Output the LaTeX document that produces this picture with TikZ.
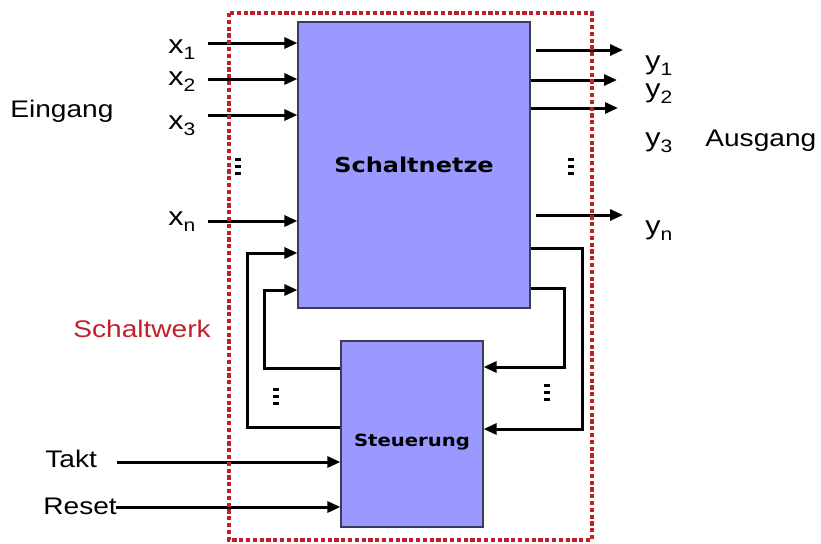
\documentclass[tikz,border=0pt]{standalone}
\usepackage{fontspec}
\setmainfont{Liberation Sans}[FakeStretch=1.17]
\newfontfamily\boxfont{DejaVu Sans}[FakeStretch=1.17]
\usetikzlibrary{arrows.meta,calc}
\definecolor{boxblue}{RGB}{153,153,255}
\definecolor{framered}{RGB}{192,32,44}
\definecolor{boxedge}{RGB}{60,60,90}
\newcommand{\signame}[2]{#1\raisebox{-3pt}{\fontsize{9}{10}\selectfont #2}}
\begin{document}
\begin{tikzpicture}[x=0.5pt,y=-0.5pt,
  blk/.style={draw=boxedge, line width=0.6pt, fill=boxblue, inner sep=0pt},
  arr/.style={line width=1.5pt, -{Triangle[length=6.5pt,width=5.5pt]}},
  lbl/.style={inner sep=0pt, anchor=base west, font=\fontsize{13}{15}\selectfont},
  txt/.style={inner sep=0pt, anchor=base west, font=\fontsize{12}{14}\selectfont},
  vdots/.style={line width=3.3pt, dash pattern=on 1.5pt off 2pt},
  frame/.style={draw=framered, line width=2.3pt, dash pattern=on 2.1pt off 1.3pt}
]
\useasboundingbox (0,0) rectangle (821,543);

% blocks
\node[blk, minimum width=116pt, minimum height=143pt,
      font=\boxfont\bfseries\fontsize{10.25}{12}\selectfont] (sn) at (414,165) {Schaltnetze};
\node[blk, minimum width=71pt, minimum height=93pt] (st) at (412,434) {};
\node[inner sep=0pt, font=\boxfont\bfseries\fontsize{8.4}{10}\selectfont] (stlabel) at (412,442) {Steuerung};

% inputs
\coordinate (x1s) at (208,43);
\coordinate (x2s) at (208,79);
\coordinate (x3s) at (208,115);
\coordinate (xns) at (208,221);
\draw[arr] (x1s) -- (x1s -| sn.west);
\draw[arr] (x2s) -- (x2s -| sn.west);
\draw[arr] (x3s) -- (x3s -| sn.west);
\draw[arr] (xns) -- (xns -| sn.west);
\node[lbl] (lx1) at (168,53) {\signame{x}{1}};
\node[lbl] (lx2) at (168,85) {\signame{x}{2}};
\node[lbl] (lx3) at (168,129) {\signame{x}{3}};
\node[lbl] (lxn) at (168,225) {\signame{x}{n}};

% outputs
\coordinate (y1e) at (623,50);
\coordinate (y2e) at (617,80);
\coordinate (y3e) at (618,108);
\coordinate (yne) at (623,215);
\draw[arr] ($(sn.east |- y1e)+(5,0)$) -- (y1e);
\draw[arr] (sn.east |- y2e) -- (y2e);
\draw[arr] (sn.east |- y3e) -- (y3e);
\draw[arr] ($(sn.east |- yne)+(5,0)$) -- (yne);
\node[lbl] (ly1) at (645,69) {\signame{y}{1}};
\node[lbl] (ly2) at (645,97) {\signame{y}{2}};
\node[lbl] (ly3) at (645,146) {\signame{y}{3}};
\node[lbl] (lyn) at (645,234) {\signame{y}{n}};

% feedback left
\coordinate (a1) at (247,427);
\coordinate (a2) at (247,253);
\draw[arr] (st.west |- a1) -- (a1) -- (a2) -- (a2 -| sn.west);
\coordinate (b1) at (264,368);
\coordinate (b2) at (264,290);
\draw[arr] (st.west |- b1) -- (b1) -- (b2) -- (b2 -| sn.west);
% feedback right
\coordinate (c1) at (582,248);
\coordinate (c2) at (582,429);
\draw[arr] (sn.east |- c1) -- (c1) -- (c2) -- (c2 -| st.east);
\coordinate (d1) at (564,288);
\coordinate (d2) at (564,367);
\draw[arr] (sn.east |- d1) -- (d1) -- (d2) -- (d2 -| st.east);

% Takt / Reset
\coordinate (tk) at (117,462);
\coordinate (rs) at (116,507);
\draw[arr] (tk) -- (tk -| st.west);
\draw[arr] (rs) -- (rs -| st.west);

% text labels
\node[txt] (eingang) at (10,117) {Eingang};
\node[txt] (ausgang) at (705,146) {Ausgang};
\node[txt, text=framered] (schaltwerk) at (73,337) {Schaltwerk};
\node[txt] (takt) at (45,467) {Takt};
\node[txt] (reset) at (43,514) {Reset};

% vertical dots
\draw[vdots] (238,158) -- (238,176);
\draw[vdots] (571,158) -- (571,176);
\draw[vdots] (276,388) -- (276,406);
\draw[vdots] (547,384) -- (547,402);

% Schaltwerk frame
\draw[frame] (229,13) rectangle (592,540);
\end{tikzpicture}
\end{document}
